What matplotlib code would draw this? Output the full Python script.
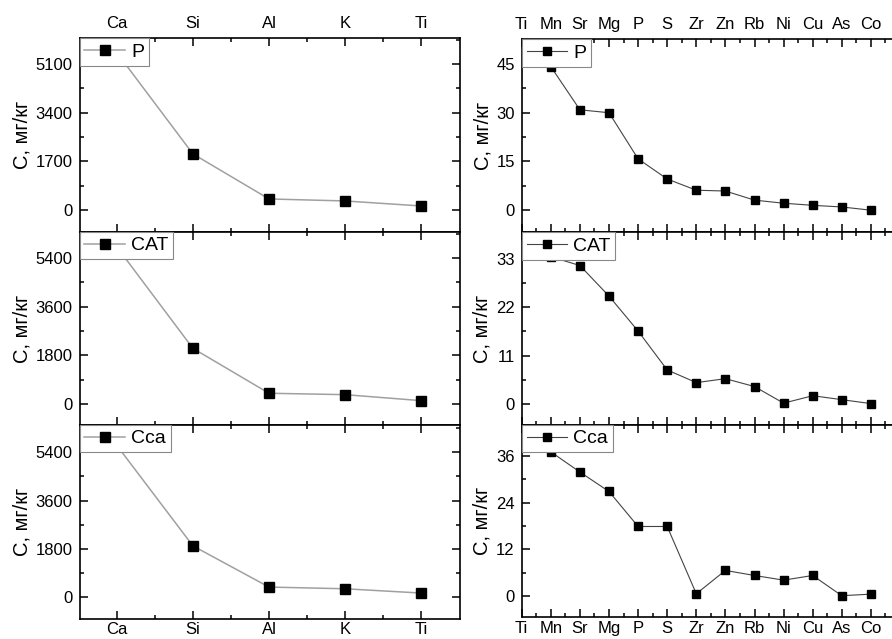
import matplotlib.pyplot as plt
import numpy as np

plt.rcParams['font.family'] = ['Liberation Sans', 'DejaVu Sans']

# Macro elements (left column)
macro_elements = ['Ca', 'Si', 'Al', 'K', 'Ti']
macro_P = [5500, 1960, 385, 315, 140]
macro_CAT = [5820, 2060, 396, 344, 122]
macro_Cca = [5660, 1910, 373, 309, 149]

# Trace elements (right column), Ti has no point
trace_elements = ['Ti', 'Mn', 'Sr', 'Mg', 'P', 'S', 'Zr', 'Zn', 'Rb', 'Ni', 'Cu', 'As', 'Co']
trace_P = [44.2, 30.9, 30.0, 15.8, 9.6, 6.15, 5.9, 3.1, 2.15, 1.5, 1.0, 0.0]
trace_CAT = [33.6, 31.6, 24.6, 16.6, 7.7, 4.8, 5.7, 3.9, 0.1, 1.8, 0.9, 0.0]
trace_Cca = [37.1, 31.9, 26.9, 17.9, 17.9, 0.6, 6.6, 5.3, 4.1, 5.3, 0.1, 0.5]

labels = ['P', 'CAT', 'Cca']

W, H = 892, 639
fig = plt.figure(figsize=(W / 100, H / 100), dpi=100)


def add_ax(x0, x1, ytop, ybot):
    return fig.add_axes([x0 / W, 1 - ybot / H, (x1 - x0) / W, (ybot - ytop) / H])


def style(ax, show_top, show_bottom, fs):
    ax.tick_params(which='both', direction='in', top=True, bottom=True,
                   labeltop=show_top, labelbottom=show_bottom, labelsize=fs,
                   width=1.1, pad=5)
    ax.tick_params(which='major', length=6)
    ax.tick_params(which='minor', length=3)
    for s in ax.spines.values():
        s.set_linewidth(1.2)


def add_legend(ax, fs):
    leg = ax.legend(loc='upper left', borderaxespad=0, fontsize=fs,
                    fancybox=False, framealpha=1, edgecolor='#888888',
                    handlelength=2.1, handletextpad=0.3, borderpad=0.25)
    leg.get_frame().set_linewidth(0.8)


# left column
left_rows = [(38.3, 232), (232, 425), (425, 619.3)]
left_data = [macro_P, macro_CAT, macro_Cca]
left_ylims = [(-770, 6000), (-780, 6370), (-830, 6420)]
left_ticks = [[0, 1700, 3400, 5100], [0, 1800, 3600, 5400], [0, 1800, 3600, 5400]]

x_macro = np.arange(len(macro_elements))
for i in range(3):
    ax = add_ax(79.5, 460, *left_rows[i])
    ax.plot(x_macro, left_data[i], color='#a0a0a0', linewidth=1.1,
            marker='s', markersize=6.5, markerfacecolor='black',
            markeredgecolor='black', label=labels[i])
    ax.set_xlim(-0.49, 4.51)
    ax.set_xticks(x_macro)
    ax.set_xticklabels(macro_elements)
    ax.set_xticks(x_macro[:-1] + 0.5, minor=True)
    t = left_ticks[i]
    ax.set_yticks(t)
    ax.set_yticks([v + (t[1] - t[0]) / 2 for v in [t[0] - (t[1] - t[0])] + t], minor=True)
    ax.set_ylim(*left_ylims[i])
    ax.tick_params(right=True, which='both')
    style(ax, i == 0, i == 2, 12)
    if i == 2:
        ax.tick_params(axis='x', which='major', pad=2)
    ax.set_ylabel('C, мг/кг', fontsize=14.5, labelpad=3)
    add_legend(ax, 14)

# right column
right_rows = [(39.3, 232.3), (232.3, 425), (425, 616.7)]
right_data = [trace_P, trace_CAT, trace_Cca]
right_ylims = [(-6.8, 52.6), (-4.9, 39.2), (-5.3, 44.0)]
right_ticks = [[0, 15, 30, 45], [0, 11, 22, 33], [0, 12, 24, 36]]

x_trace = np.arange(len(trace_elements))
for i in range(3):
    ax = add_ax(521.7, 900, *right_rows[i])
    ax.plot(x_trace[1:], right_data[i], color='#444444', linewidth=0.8,
            marker='s', markersize=6, markerfacecolor='black',
            markeredgecolor='black', label=labels[i])
    ax.set_xlim(0, 13)
    ax.set_xticks(x_trace)
    ax.set_xticklabels(trace_elements)
    ax.set_xticks(x_trace + 0.5, minor=True)
    t = right_ticks[i]
    ax.set_yticks(t)
    ax.set_yticks([v + (t[1] - t[0]) / 2 for v in [t[0] - (t[1] - t[0])] + t], minor=True)
    ax.set_ylim(*right_ylims[i])
    style(ax, i == 0, i == 2, 12)
    if i == 2:
        ax.tick_params(axis='x', which='major', pad=3)
    ax.set_ylabel('C, мг/кг', fontsize=14.5, labelpad=3)
    add_legend(ax, 14)

plt.savefig('out.png', dpi=100)
